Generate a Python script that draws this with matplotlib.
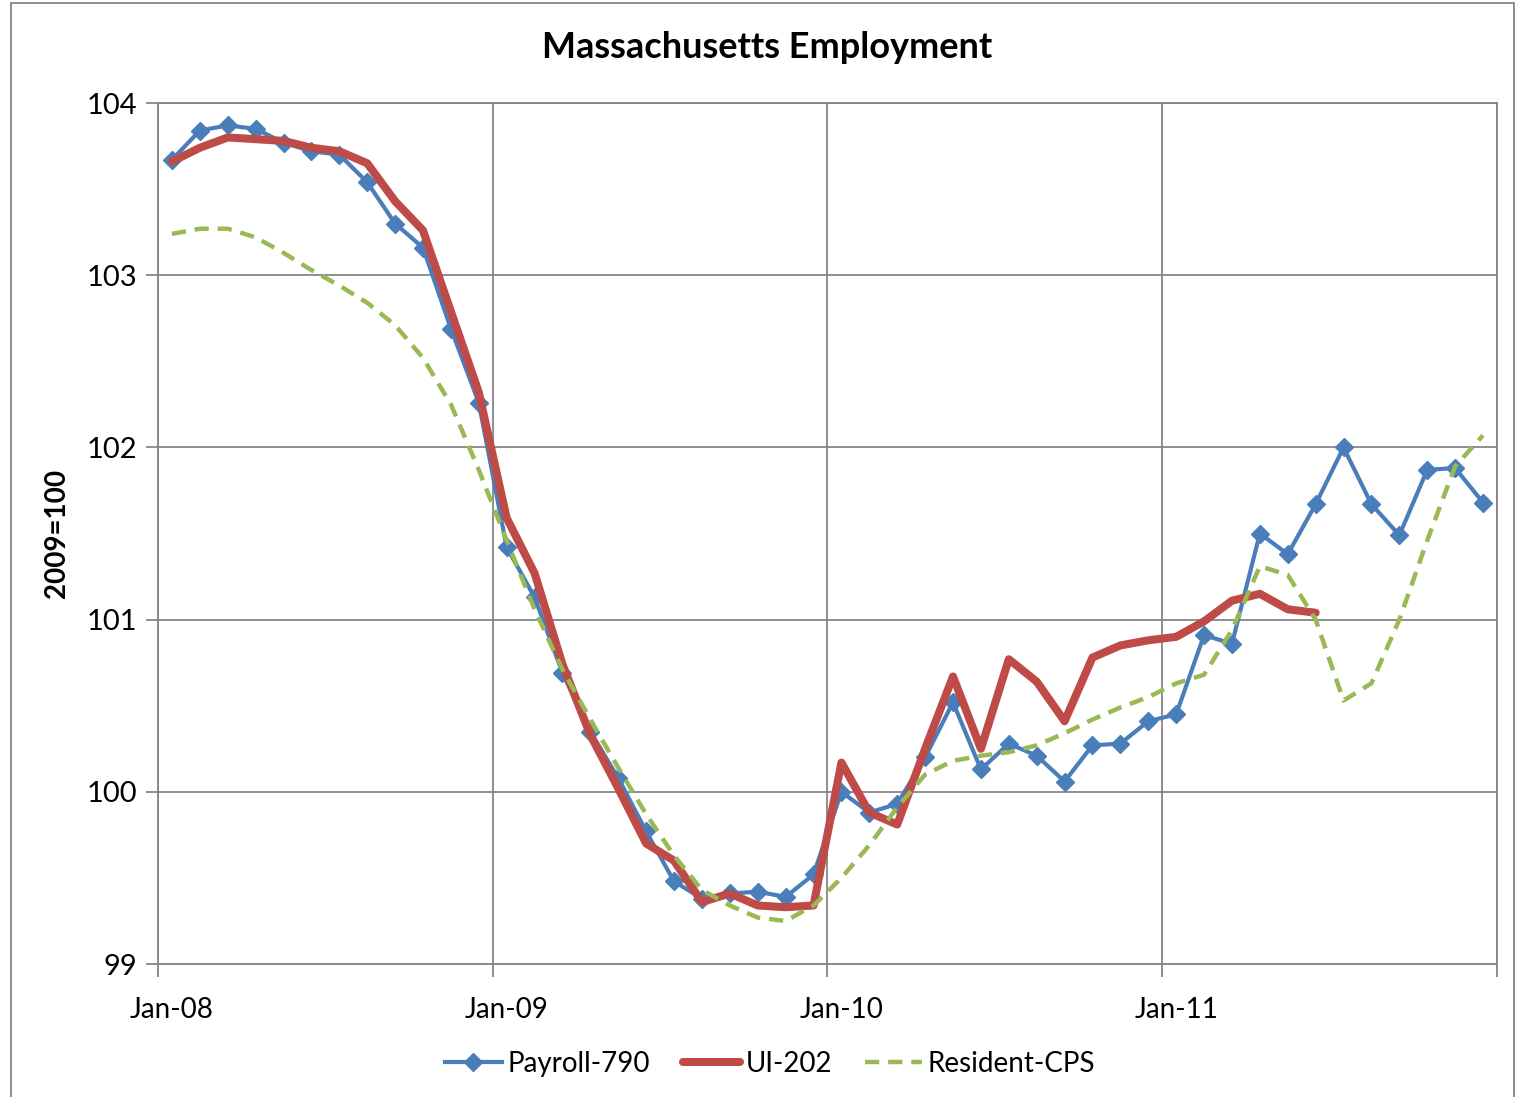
import numpy as np
import matplotlib.pyplot as plt
from matplotlib.patches import Rectangle

plt.rcParams['font.family'] = ['Lato', 'DejaVu Sans']

# monthly index values, Jan-08 .. Dec-11
payroll = [103.67, 103.84, 103.87, 103.85, 103.77, 103.72, 103.70, 103.54, 103.30, 103.16, 102.69, 102.26,
           101.42, 101.13, 100.69, 100.35, 100.08, 99.77, 99.48, 99.38, 99.41, 99.42, 99.39, 99.52,
           100.00, 99.88, 99.93, 100.20, 100.52, 100.13, 100.28, 100.21, 100.06, 100.27, 100.28, 100.41,
           100.45, 100.91, 100.86, 101.50, 101.38, 101.67, 102.00, 101.67, 101.49, 101.87, 101.88, 101.68]
ui202 = [103.66, 103.74, 103.80, 103.79, 103.78, 103.74, 103.72, 103.65, 103.43, 103.26, 102.79, 102.32,
         101.59, 101.27, 100.74, 100.33, 100.02, 99.70, 99.60, 99.36, 99.41, 99.34, 99.33, 99.34,
         100.17, 99.88, 99.81, 100.25, 100.67, 100.25, 100.77, 100.64, 100.41, 100.78, 100.85, 100.88,
         100.90, 100.99, 101.11, 101.15, 101.06, 101.04]
cps = [103.24, 103.27, 103.27, 103.22, 103.13, 103.03, 102.94, 102.84, 102.71, 102.52, 102.25, 101.87,
       101.46, 101.06, 100.71, 100.42, 100.14, 99.87, 99.63, 99.43, 99.34, 99.27, 99.25, 99.34,
       99.50, 99.69, 99.91, 100.10, 100.18, 100.21, 100.23, 100.27, 100.34, 100.42, 100.49, 100.55,
       100.63, 100.68, 100.94, 101.31, 101.26, 101.00, 100.53, 100.63, 101.00, 101.46, 101.89, 102.07]
year_labels = ["Jan-08", "Jan-09", "Jan-10", "Jan-11"]

fig = plt.figure(figsize=(15.19, 10.97), dpi=100)
ax = fig.add_axes([0.104, 0.1212, 0.8815, 0.7849])

grid_c = "#868686"
ax.plot(np.arange(len(payroll)), payroll, color="#4a7ebb", lw=3, marker="D", ms=9,
        label="Payroll-790", zorder=3)
ax.plot(np.arange(len(ui202)), ui202, color="#be4b48", lw=5.8, solid_capstyle="round",
        label="UI-202", zorder=4)
ax.plot(np.arange(len(cps)), cps, color="#98b954", lw=3.2, ls=(0, (3.2, 2)),
        label="Resident-CPS", zorder=5)

ax.set_xlim(-0.5, 47.5)
ax.set_ylim(99, 104)
ax.set_yticks(range(99, 105))
ax.set_xticks([-0.5, 11.5, 23.5, 35.5, 47.5])
ax.set_xticklabels([])
ax.set_xticks([0, 12, 24, 36], minor=True)
ax.set_xticklabels(year_labels, minor=True)
ax.tick_params(axis="x", which="minor", length=0, labelsize=20, pad=24)
ax.tick_params(axis="x", which="major", length=9, color=grid_c, width=1.3)
ax.tick_params(axis="y", length=9, color=grid_c, width=1.3, labelsize=21, pad=6)
ax.grid(True, which="major", color=grid_c, lw=1.3)
for s in ax.spines.values():
    s.set_color(grid_c)
    s.set_linewidth(1.3)

fig.text(0.505, 0.957, "Massachusetts Employment", fontsize=26, fontweight="bold",
         ha="center", va="center")
ax.set_ylabel("2009=100", fontsize=20, fontweight="bold", labelpad=12)

fig.legend(loc="center", bbox_to_anchor=(0.507, 0.030), ncol=3, frameon=False, fontsize=20,
           handlelength=2.05, handletextpad=0.2, columnspacing=1.2)

fig.add_artist(Rectangle((0.007, -0.01), 0.99, 1.007, transform=fig.transFigure,
                         fill=False, edgecolor=grid_c, lw=1.3))

fig.savefig("out.png", dpi=100)
